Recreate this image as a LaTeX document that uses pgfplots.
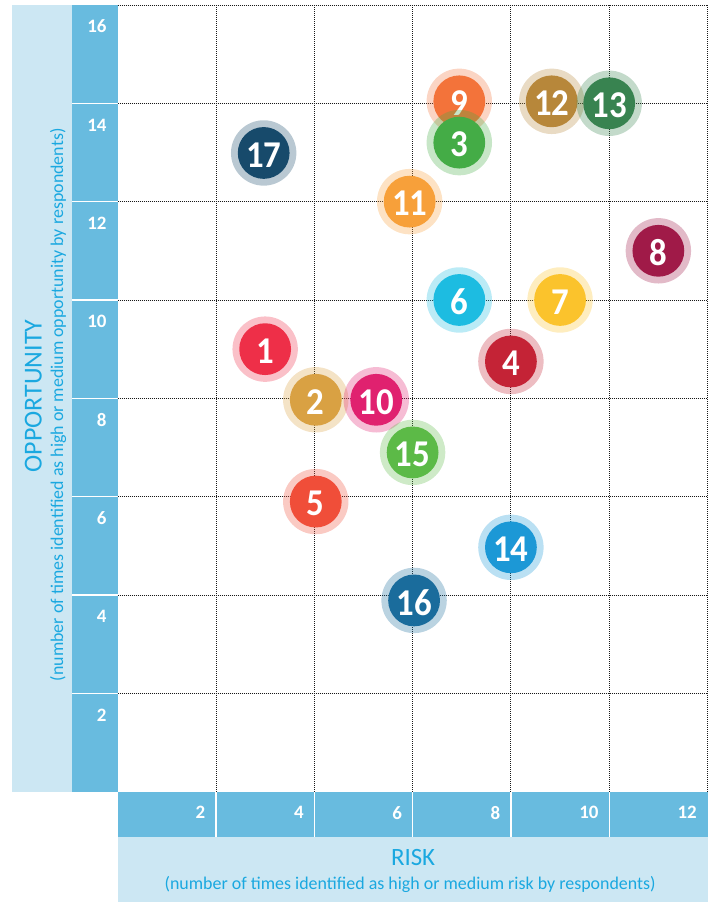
\documentclass[border=0pt]{standalone}
\usepackage{fontspec}
\setmainfont{Carlito}
\usepackage{pgfplots}
\pgfplotsset{compat=1.18}
\definecolor{tickband}{HTML}{68BBDF}
\definecolor{lightband}{HTML}{CCE7F3}
\definecolor{titleblue}{HTML}{1AA8E0}
\definecolor{c1}{HTML}{EE2F48}
\definecolor{c2}{HTML}{D9A143}
\definecolor{c3}{HTML}{44AC46}
\definecolor{c4}{HTML}{C42336}
\definecolor{c5}{HTML}{F04E39}
\definecolor{c6}{HTML}{1DBCE1}
\definecolor{c7}{HTML}{FBC32C}
\definecolor{c8}{HTML}{A01A48}
\definecolor{c9}{HTML}{F3733A}
\definecolor{c10}{HTML}{E0216F}
\definecolor{c11}{HTML}{F7A03A}
\definecolor{c12}{HTML}{B7873A}
\definecolor{c13}{HTML}{388350}
\definecolor{c14}{HTML}{1C98D6}
\definecolor{c15}{HTML}{5CBA47}
\definecolor{c16}{HTML}{1A6C9C}
\definecolor{c17}{HTML}{174A6B}
\newcommand{\bubblefont}{\bfseries\fontsize{38}{38}\selectfont}
\newcommand{\bubble}[4]{%
  \addplot[only marks, mark=*, color=#3, draw opacity=0, mark size=32.7bp,
    mark options={solid, draw opacity=0, fill=#3, fill opacity=0.3}] coordinates {(#1,#2)};
  \addplot[only marks, mark=*, color=#3, draw opacity=0, mark size=25.9bp,
    mark options={solid, draw opacity=0, fill=#3},
    nodes near coords={#4}, nodes near coords align={center},
    every node near coord/.append style={anchor=center, text=white, inner sep=0pt,
      text opacity=1, font=\bubblefont, xscale=0.92, yshift=-2bp}] coordinates {(#1,#2)};
}
\begin{document}
\begin{tikzpicture}
\begin{axis}[
  x=49.15bp, y=49.17bp,
  xmin=0, xmax=12, ymin=0, ymax=16,
  clip=false, set layers,
  axis line style={draw=none},
  tick style={draw=none},
  xtick={2,4,...,12}, ytick={2,4,...,16},
  grid=major,
  grid style={line width=0.9bp, black!90, dash pattern=on 0.9bp off 1.1bp},
  /pgf/number format/assume math mode=true,
  xticklabel style={anchor=east, inner sep=0pt, xshift=-10.5bp, yshift=-21bp,
    text=white, font=\bfseries\fontsize{19}{19}\selectfont},
  yticklabel style={anchor=east, inner sep=0pt, xshift=-11bp, yshift=-21.6bp,
    text=white, font=\bfseries\fontsize{19}{19}\selectfont},
]
\begin{pgfonlayer}{axis background}
  \fill[lightband] (axis cs:-2.157,0) rectangle (axis cs:-0.924,16);
  \fill[tickband] (axis cs:-0.924,0) rectangle (axis cs:0,16);
  \fill[tickband] (axis cs:0,0) rectangle (axis cs:12,-0.915);
  \fill[lightband] (axis cs:0,-0.915) rectangle (axis cs:12,-2.2432);
  \draw[white, line width=1.2bp] (axis cs:2,0) -- (axis cs:2,-0.915);
  \draw[white, line width=1.2bp] (axis cs:4,0) -- (axis cs:4,-0.915);
  \draw[white, line width=1.2bp] (axis cs:6,0) -- (axis cs:6,-0.915);
  \draw[white, line width=1.2bp] (axis cs:8,0) -- (axis cs:8,-0.915);
  \draw[white, line width=1.2bp] (axis cs:10,0) -- (axis cs:10,-0.915);
  \draw[white, line width=1.2bp] (axis cs:-0.924,2) -- (axis cs:0,2);
  \draw[white, line width=1.2bp] (axis cs:-0.924,4) -- (axis cs:0,4);
  \draw[white, line width=1.2bp] (axis cs:-0.924,6) -- (axis cs:0,6);
  \draw[white, line width=1.2bp] (axis cs:-0.924,8) -- (axis cs:0,8);
  \draw[white, line width=1.2bp] (axis cs:-0.924,10) -- (axis cs:0,10);
  \draw[white, line width=1.2bp] (axis cs:-0.924,12) -- (axis cs:0,12);
  \draw[white, line width=1.2bp] (axis cs:-0.924,14) -- (axis cs:0,14);
\end{pgfonlayer}
\coordinate (bl) at (axis cs:-2.3947,-2.2432);
\coordinate (tr) at (axis cs:12.2136,16.101);

\bubble{3}{9}{c1}{1}
\bubble{4.03}{7.97}{c2}{2}
\bubble{6.95}{14.04}{c9}{9}
\bubble{6.95}{13.2}{c3}{3}
\bubble{8.0}{8.75}{c4}{4}
\bubble{4.03}{5.9}{c5}{5}
\bubble{6.95}{10}{c6}{6}
\bubble{9.0}{10}{c7}{7}
\bubble{11}{11}{c8}{8}
\bubble{5.26}{7.97}{c10}{10}
\bubble{5.94}{12.0}{c11}{11}
\bubble{8.83}{14.04}{c12}{12}
\bubble{10.0}{14.0}{c13}{13}
\bubble{8.0}{4.97}{c14}{14}
\bubble{6.0}{6.9}{c15}{15}
\bubble{6.03}{3.89}{c16}{16}
\bubble{2.97}{12.99}{c17}{17}

\node[rotate=90, text=titleblue, font=\fontsize{26}{26}\selectfont] at (axis cs:-1.717,8.05) {OPPORTUNITY};
\node[rotate=90, text=titleblue, font=\fontsize{18}{18}\selectfont] at (axis cs:-1.215,7.87) {(number of times identified as high or medium opportunity by respondents)};
\node[text=titleblue, font=\fontsize{25}{25}\selectfont] at (axis cs:6.01,-1.348) {RISK};
\node[text=titleblue, font=\fontsize{18}{18}\selectfont] at (axis cs:5.95,-1.897) {(number of times identified as high or medium risk by respondents)};
\end{axis}
\pgfresetboundingbox
\path (bl) rectangle (tr);
\end{tikzpicture}
\end{document}
